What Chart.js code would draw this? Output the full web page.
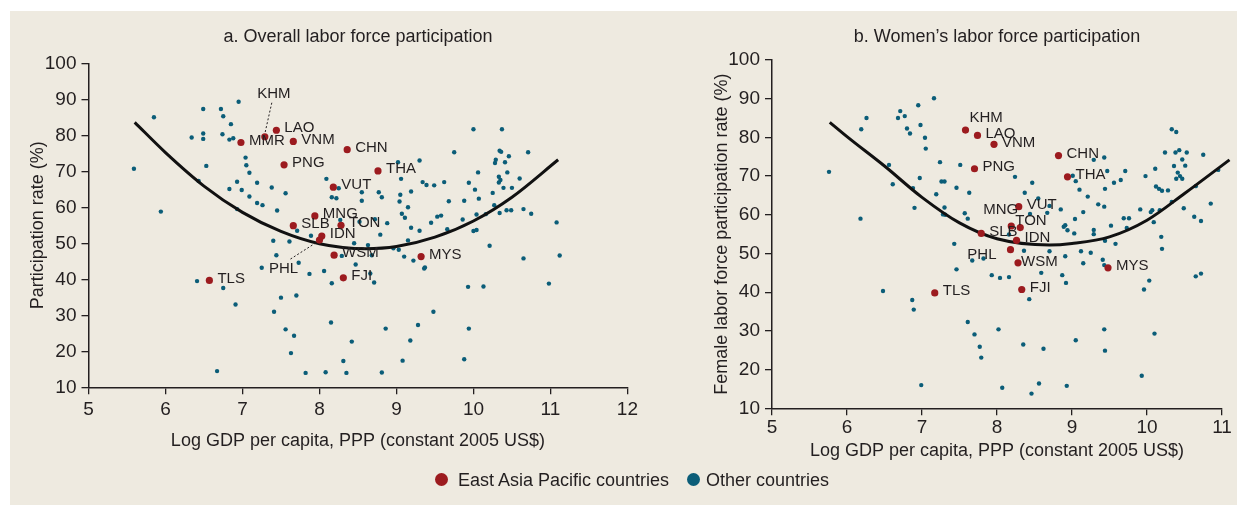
<!DOCTYPE html>
<html>
<head>
<meta charset="utf-8">
<script src="https://cdn.jsdelivr.net/npm/chart.js@4.4.0/dist/chart.umd.min.js"></script>
<style>
  html, body { margin: 0; padding: 0; background: #fff; }
  #page { position: relative; width: 1247px; height: 508px; background: #fff; overflow: hidden;
          font-family: "Liberation Sans Narrow", "Liberation Sans", Arial, sans-serif; color: #231f20; }
  #panel { position: absolute; left: 10px; top: 11px; width: 1227px; height: 494px; background: #eeeae0; }
  .box { position: absolute; top: 0; }
  #boxA { left: 0; }
  #boxB { left: 680px; }
  .dot { position: absolute; width: 13px; height: 13px; border-radius: 50%; top: 473px; }
  .lg { position: absolute; top: 469px; font-size: 18px; line-height: 22px; white-space: nowrap; }
</style>
</head>
<body>
<div id="page">
  <div id="panel"></div>
  <div class="box" id="boxA"><canvas id="chartA" width="642" height="470"></canvas></div>
  <div class="box" id="boxB"><canvas id="chartB" width="557" height="470"></canvas></div>
  <span class="dot" style="left:435px; background:#9c1b1f"></span>
  <span class="lg" style="left:458px">East Asia Pacific countries</span>
  <span class="dot" style="left:687px; background:#0b5d78"></span>
  <span class="lg" style="left:706px">Other countries</span>
</div>
<script>
// ---- data ----
// panel a: overall participation, x = log GDP per capita, y = rate (%)
const eapCodesA = ['KHM','LAO','MMR','VNM','PNG','CHN','THA','VUT','MNG','SLB','TON','IDN','PHL','WSM','MYS','TLS','FJI']
const eapGdpA  = [7.29, 7.44, 6.98, 7.66, 7.54, 8.36, 8.76, 8.18, 7.94, 7.66, 8.28, 8.03, 8.00, 8.19, 9.32, 6.57, 8.31]
const eapRateA = [79.6, 81.4, 78.0, 78.3, 71.8, 76.0, 70.1, 65.6, 57.6, 54.9, 55.0, 52.0, 50.9, 46.7, 46.3, 39.7, 40.4]

const otherA = [
  [6.95,89.3],[5.85,85.0],[6.49,87.3],[6.72,87.3],[6.75,85.3],[6.85,83.1],[6.34,79.4],[6.49,80.5],[6.49,79.0],[6.74,80.3],
  [6.83,78.8],[6.88,79.2],[5.59,70.7],[6.53,71.5],[7.04,73.8],[7.05,71.7],[7.09,69.6],[6.43,67.3],[6.93,67.1],[6.83,65.1],
  [6.99,64.8],[7.19,66.8],[7.38,65.5],[7.56,63.9],[7.09,63.0],[7.19,61.2],[7.26,60.6],[7.45,59.1],[6.93,59.5],[5.94,58.8],
  [8.09,67.9],[8.25,65.3],[8.16,62.8],[8.22,62.5],[8.55,64.2],[8.55,61.8],[7.71,53.5],[7.89,52.1],[7.40,50.7],[7.61,50.5],
  [8.27,56.5],[8.45,50.0],[8.52,56.0],[7.44,46.7],[8.29,46.5],[8.63,49.5],
  [10.00,81.7],[10.37,81.7],[9.75,75.3],[10.34,75.7],[10.36,75.4],[10.46,74.2],[10.71,75.3],[9.30,73.0],[10.29,73.2],[10.28,72.3],
  [10.41,72.5],[9.02,72.5],[10.06,69.7],[10.44,69.7],[10.33,68.5],[10.35,67.6],[10.33,66.9],[10.60,68.0],[9.06,67.9],[9.34,67.0],
  [9.39,66.2],[9.49,66.1],[9.62,67.0],[9.94,66.8],[10.02,64.9],[10.39,65.4],[10.50,65.4],[10.25,64.0],[10.07,62.4],[9.19,64.4],
  [9.05,63.5],[8.77,64.2],[8.81,62.8],[9.04,61.6],[9.15,60.0],[9.68,61.7],[9.88,61.8],[10.27,60.6],[9.07,58.2],[9.11,57.1],
  [9.53,57.4],[9.58,57.7],[10.04,58.0],[10.16,58.1],[10.34,58.4],[10.43,59.2],[10.49,59.2],[10.65,59.5],[10.75,58.2],[11.08,55.8],
  [8.72,56.7],[8.88,55.6],[9.45,55.7],[9.19,54.3],[9.30,53.5],[9.66,53.9],[9.86,56.6],[10.00,53.4],[10.04,53.7],[8.79,52.4],
  [9.15,50.8],[8.96,48.6],[9.03,48.2],[10.21,49.3],[9.10,46.3],[8.68,46.7],[10.65,45.8],[11.12,46.6],
  [7.73,44.6],[7.25,43.2],[6.41,39.5],[6.75,37.6],[7.87,41.5],[8.06,42.3],[8.16,38.9],[8.47,44.1],[6.91,33.0],[7.50,34.9],
  [7.70,35.5],[7.41,31.0],[8.15,28.0],[7.56,26.1],[7.67,24.3],[8.42,22.7],[7.63,19.5],[8.31,17.3],[6.67,14.5],[7.82,14.0],
  [8.08,14.2],[8.35,14.0],
  [9.22,45.2],[9.37,43.3],[9.36,43.0],[8.66,41.6],[8.71,39.1],[9.93,37.9],[10.13,38.0],[10.98,38.8],[9.48,31.0],[8.86,26.3],
  [9.28,27.3],[9.94,26.3],[9.18,23.0],[9.08,17.4],[9.88,17.8],[8.81,14.1]
]

// fitted curve as traced on the picture
const fitGdpA  = [5.6, 6.0, 6.5, 7.0, 7.5, 8.0, 8.6, 9.0, 9.5, 10.0, 10.5, 11.1]
const fitRateA = [83.6, 75.2, 65.9, 58.6, 53.3, 49.9, 48.5, 49.1, 51.7, 56.2, 62.8, 73.2]

// panel b: women's participation
const eapCodesB = ['KHM','LAO','VNM','PNG','CHN','THA','VUT','MNG','TON','SLB','IDN','PHL','WSM','MYS','TLS','FJI']
const eapGdpB  = [7.58, 7.74, 7.96, 7.70, 8.82, 8.94, 8.29, 8.19, 8.31, 7.79, 8.26, 8.18, 8.28, 9.48, 7.17, 8.33]
const eapRateB = [81.9, 80.5, 78.2, 71.9, 75.3, 69.8, 62.1, 57.1, 56.7, 55.2, 53.4, 51.0, 47.6, 46.3, 39.8, 40.7]

const otherB = [
  [7.16,90.1],[6.95,88.3],[6.71,86.8],[6.77,85.5],[6.68,85.0],[6.26,85.0],[6.19,82.1],[6.80,82.3],[6.84,81.0],[6.98,83.2],
  [7.04,79.9],[7.05,77.1],[5.76,71.1],[6.56,72.9],[7.24,73.6],[7.51,72.9],[6.97,69.5],[7.26,68.6],[7.30,68.6],[6.61,67.9],
  [6.88,66.9],[7.46,67.0],[7.19,65.3],[7.63,65.7],[6.90,61.8],[7.30,61.9],[7.28,60.1],[7.31,60.0],[7.57,60.4],[7.61,59.0],
  [6.18,59.0],[7.43,52.5],[7.67,48.2],[7.82,48.7],
  [10.33,82.1],[10.39,81.4],[10.24,76.1],[10.38,76.1],[10.43,76.7],[10.53,76.1],[10.75,75.5],[10.47,74.3],[10.51,72.7],[10.36,72.6],
  [10.11,71.9],[10.41,70.9],[10.44,70.0],[10.47,69.3],[10.39,69.3],[10.65,67.4],[10.95,71.6],[10.85,62.9],[9.29,74.2],[9.43,74.8],
  [9.47,71.3],[9.71,71.3],[9.98,70.0],[9.01,70.1],[9.05,68.7],[9.56,68.3],[9.65,69.0],[9.44,66.7],[9.10,66.5],[10.12,67.3],
  [10.16,66.7],[10.20,66.2],[10.28,66.3],[8.24,69.8],[8.47,68.3],[8.37,65.7],[8.55,64.2],[9.21,64.7],[9.35,62.7],[9.43,62.1],
  [8.70,62.3],[8.85,61.4],[8.67,60.5],[9.15,60.7],[9.04,58.9],[9.69,59.1],[9.76,59.1],[9.91,61.4],[10.05,60.7],[10.07,61.2],
  [10.17,61.2],[10.33,63.3],[10.49,61.7],[10.63,59.5],[10.72,58.4],[10.09,58.1],[9.52,57.2],[9.73,56.6],[8.89,56.9],[8.91,57.3],
  [8.94,56.0],[9.03,55.2],[9.29,56.1],[9.29,55.0],[9.44,53.3],[9.58,52.5],[10.19,54.3],[10.20,51.2],[8.44,60.2],[8.16,54.9],
  [8.36,50.7],[8.70,50.6],[8.91,49.3],[9.12,50.6],[9.25,50.2],[9.41,48.4],[9.15,47.5],
  [7.46,45.9],[7.93,44.4],[8.04,43.7],[8.16,43.9],[6.48,40.3],[6.87,38.0],[6.89,35.5],[7.61,32.3],[8.02,30.4],[7.70,29.1],
  [7.77,25.9],[7.79,23.1],[6.99,16.0],[8.07,15.3],
  [9.43,47.0],[8.59,45.0],[8.87,44.4],[8.92,42.4],[8.43,38.2],[10.03,43.0],[9.96,40.7],[10.65,44.1],[10.72,44.8],[9.43,30.4],
  [10.10,29.3],[8.35,26.5],[8.62,25.4],[9.05,27.6],[9.44,24.9],[9.93,18.4],[8.56,16.4],[8.93,15.8],[8.46,13.8]
]

const fitGdpB  = [5.77, 6.0, 6.5, 7.0, 7.5, 8.0, 8.7, 9.0, 9.5, 10.0, 10.5, 11.1]
const fitRateB = [83.9, 80.2, 72.6, 64.5, 57.9, 53.8, 52.2, 52.6, 54.3, 58.6, 65.5, 74.2]

// ---- styling ----
const fontFam = '"Liberation Sans Narrow", "Liberation Sans", Arial, sans-serif'
const ink = '#231f20'
const red = '#9c1b1f'
const teal = '#0b5d78'
Chart.defaults.font.family = fontFam
Chart.defaults.color = ink

// label placement next to each red dot: [dx, dy, align, leader]
const labelPosA = {
  KHM: [9, -43, 'center', [7, -34, 0, -3]],
  PHL: [-36, 29, 'center', [-29, 19, -4, 3]]
}
const labelPosB = {
  KHM: [4, -12, 'left'],
  MNG: [7, -16, 'right'],
  TON: [-5, -7, 'left'],
  PHL: [-14, 5, 'right'],
  WSM: [3, -1, 'left']
}

const eapLabels = {
  id: 'eapLabels',
  afterDatasetsDraw(chart, args, opts) {
    const ctx = chart.ctx
    const meta = chart.getDatasetMeta(0)
    ctx.save()
    ctx.font = '15px ' + fontFam
    ctx.fillStyle = ink
    ctx.strokeStyle = ink
    ctx.textBaseline = 'middle'
    meta.data.forEach((pt, i) => {
      const code = opts.codes[i]
      const p = opts.pos[code] || [8, -2, 'left']
      ctx.textAlign = p[2]
      ctx.fillText(code, pt.x + p[0], pt.y + p[1])
      if (p[3]) {
        ctx.beginPath()
        ctx.setLineDash([2, 2])
        ctx.lineWidth = 1
        ctx.moveTo(pt.x + p[3][0], pt.y + p[3][1])
        ctx.lineTo(pt.x + p[3][2], pt.y + p[3][3])
        ctx.stroke()
        ctx.setLineDash([])
      }
    })
    ctx.restore()
  }
}

function toPoints(xs, ys) {
  return xs.map((x, i) => ({x: x, y: ys[i]}))
}

function makeChart(id, cfg) {
  return new Chart(document.getElementById(id), {
    type: 'scatter',
    data: {
      datasets: [
        { label: 'East Asia Pacific countries', data: toPoints(cfg.eapGdp, cfg.eapRate),
          backgroundColor: red, borderWidth: 0, pointRadius: 3.6 },
        { type: 'line', label: 'fit', data: toPoints(cfg.fitGdp, cfg.fitRate),
          borderColor: '#111', borderWidth: 3, pointRadius: 0, fill: false, clip: false,
          cubicInterpolationMode: 'monotone' },
        { label: 'Other countries', data: cfg.other.map(d => ({x: d[0], y: d[1]})),
          backgroundColor: teal, borderWidth: 0, pointRadius: 2.2 }
      ]
    },
    options: {
      responsive: false,
      animation: false,
      layout: { padding: cfg.pad },
      scales: {
        x: {
          type: 'linear', min: 5, max: cfg.xmax,
          ticks: { stepSize: 1, font: { size: 19 }, padding: cfg.xTickPad, color: ink },
          grid: { drawOnChartArea: false, drawTicks: true, tickLength: 7, color: ink, lineWidth: 1.3 },
          border: { display: true, color: ink, width: 1.5 },
          title: { display: true, text: 'Log GDP per capita, PPP (constant 2005 US$)', color: ink,
                   font: { size: 18 }, padding: { top: 0, bottom: cfg.xTitlePad } },
          afterFit: s => { s.height = cfg.xHeight }
        },
        y: {
          min: 10, max: 100,
          ticks: { stepSize: 10, font: { size: 19 }, padding: 5, color: ink },
          grid: { drawOnChartArea: false, drawTicks: true, tickLength: 7, color: ink, lineWidth: 1.3 },
          border: { display: true, color: ink, width: 1.5 },
          title: { display: true, text: cfg.yTitle, color: ink,
                   font: { size: 18 }, padding: { top: cfg.yTitlePad, bottom: 0 } },
          afterFit: s => { s.width = cfg.yWidth }
        }
      },
      plugins: {
        legend: { display: false },
        tooltip: { enabled: false },
        title: { display: true, text: cfg.title, fullSize: false, color: ink,
                 font: { size: 18, weight: 'normal' }, padding: cfg.titlePad },
        eapLabels: { codes: cfg.codes, pos: cfg.labelPos }
      }
    },
    plugins: [eapLabels]
  })
}

makeChart('chartA', {
  eapGdp: eapGdpA, eapRate: eapRateA, codes: eapCodesA, labelPos: labelPosA,
  other: otherA, fitGdp: fitGdpA, fitRate: fitRateA, xmax: 12,
  title: 'a. Overall labor force participation', yTitle: 'Participation rate (%)',
  pad: { left: 0, right: 12.5, top: 0, bottom: 12.7 },
  titlePad: { top: 26.2, bottom: 15.5 },
  xHeight: 70, xTitlePad: 5.5, xTickPad: 4, yWidth: 88.5, yTitlePad: 27
})

makeChart('chartB', {
  eapGdp: eapGdpB, eapRate: eapRateB, codes: eapCodesB, labelPos: labelPosB,
  other: otherB, fitGdp: fitGdpB, fitRate: fitRateB, xmax: 11,
  title: 'b. Women\u2019s labor force participation', yTitle: 'Female labor force participation rate (%)',
  pad: { left: 0, right: 15, top: 0, bottom: 3.7 },
  titlePad: { top: 26.2, bottom: 12.2 },
  xHeight: 58, xTitlePad: 4.5, xTickPad: 1.3, yWidth: 92, yTitlePad: 31
})
</script>
</body>
</html>
